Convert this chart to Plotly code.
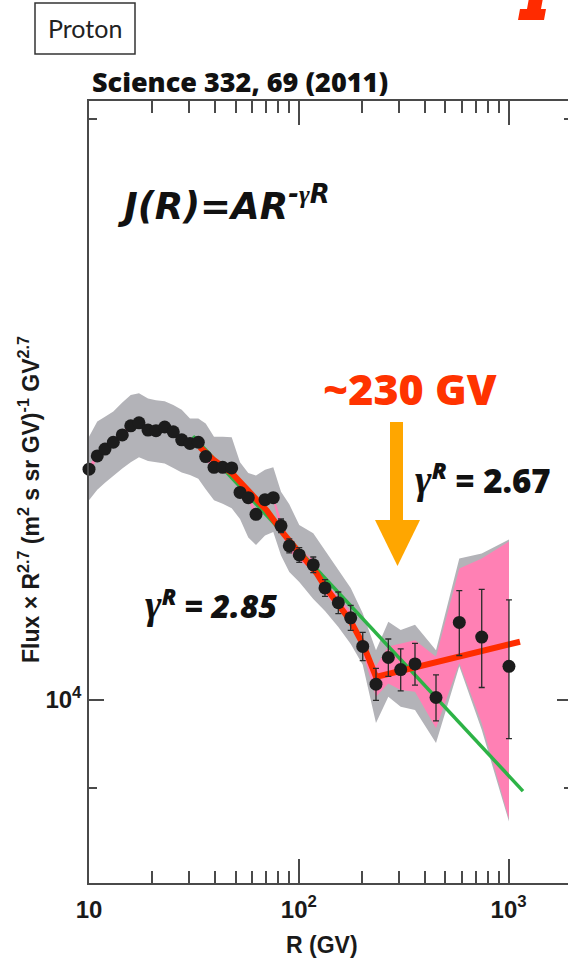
import plotly.graph_objects as go

# Rigidity bins (GV) and proton flux x R^2.7 (m^2 s sr GV)^-1 GV^2.7
R_GV = [10.0, 10.95, 11.92, 13.06, 14.41, 15.81, 17.31, 19.11, 20.86, 22.95,
        25.22, 27.66, 30.29, 33.19, 35.99, 39.43, 43.38, 47.88, 52.45, 57.44,
        62.52, 69.02, 75.56, 82.27, 90.09, 100.5, 117.2, 133.3, 154.3, 176.8,
        201.7, 233.3, 267.1, 306.0, 358.0, 450.8, 582.1, 744.5, 1004.0]
flux = [13170, 13380, 13490, 13600, 13720, 13870, 13920, 13800, 13790, 13850,
        13770, 13640, 13580, 13600, 13370, 13200, 13200, 13190, 12810, 12730,
        12480, 12700, 12730, 12310, 12020, 11890, 11750, 11430, 11230, 11030,
        10660, 10190, 10520, 10370, 10440, 10030, 10970, 10780, 10410]
flux_err = [35, 35, 35, 35, 40, 40, 40, 40, 40, 40,
            40, 45, 45, 45, 45, 50, 50, 50, 55, 55,
            60, 60, 65, 100, 100, 105, 110, 115, 145, 165,
            180, 195, 235, 260, 260, 275, 425, 630, 860]

# Total (stat + syst) uncertainty band
band_total_hi = [13690, 13940, 14020, 14110, 14260, 14390, 14420, 14330, 14300, 14280,
                 14220, 14140, 13990, 13990, 13910, 13690, 13690, 13680, 13280, 13110,
                 13070, 13160, 13200, 12820, 12630, 12320, 12200, 11950, 11670, 11430,
                 11090, 10610, 10980, 10870, 10940, 10610, 11840, 11910, 12110]
band_total_lo = [12690, 12850, 12960, 13070, 13180, 13280, 13360, 13300, 13280, 13260,
                 13190, 13120, 13080, 13020, 12860, 12690, 12640, 12570, 12410, 12140,
                 12030, 12170, 12220, 11880, 11650, 11510, 11280, 11120, 10910, 10690,
                 10430, 9730, 10040, 9920, 9880, 9500, 10410, 9650, 8650]

# Statistical band
band_stat_hi = [13220, 13430, 13550, 13650, 13770, 13930, 13980, 13860, 13840, 13900,
                13820, 13690, 13640, 13650, 13420, 13250, 13250, 13240, 12860, 12780,
                12530, 12750, 12780, 12390, 12110, 11970, 11830, 11510, 11310, 11110,
                10730, 10410, 10660, 10700, 10740, 10530, 11700, 11840, 12080]
band_stat_lo = [13110, 13330, 13440, 13550, 13670, 13820, 13870, 13750, 13730, 13790,
                13710, 13580, 13530, 13550, 13320, 13140, 13140, 13130, 12760, 12680,
                12430, 12640, 12680, 12220, 11940, 11810, 11670, 11350, 11150, 10950,
                10580, 10040, 10200, 10120, 10100, 9670, 10450, 9730, 8680]

# Broken power-law fit (red) and single power-law fit (green)
fit_broken_R = [33.8, 39.14, 47.88, 56.45, 70.31, 84.36, 101.3, 121.7, 133.3,
                154.3, 175.4, 203.0, 233.3, 1133.0]
fit_broken_F = [13520, 13320, 13110, 12850, 12540, 12200, 11910, 11630, 11450,
                11220, 11000, 10680, 10280, 10720]
fit_single_R = [31.3, 1171.0]
fit_single_F = [13700, 8970]

x_tick_vals = [10, 100, 1000]
x_tick_text = ["10", "10<sup>2</sup>", "10<sup>3</sup>"]
x_minor_vals = [20, 30, 40, 50, 60, 70, 80, 90, 200, 300, 400, 500, 600, 700, 800, 900]
y_tick_vals = [10000]
y_tick_text = ["10<sup>4</sup>"]
y_minor_vals = [9000, 20000]

# Page geometry (pixels)
W, H = 568, 958
L, T, B = 89, 101, 883
PW, PH = W - L, B - T
PX_PER_DECADE_X = 209.8
PX_PER_DECADE_Y = 1930.0
x_range = [1.0, 1.0 + PW / PX_PER_DECADE_X]
y_range = [4.0 - (B - 700) / PX_PER_DECADE_Y, 4.0 + (700 - T) / PX_PER_DECADE_Y]


def px(x):
    return (x - L) / PW


def py(y):
    return (B - y) / PH


AXC = "#4a4a4a"
GRAY = "#b3b3b8"
PINK = "#ff80b4"
RED = "#ff2d00"
GREEN = "#2db346"

fig = go.Figure()

fig.add_trace(go.Scatter(x=R_GV, y=band_total_hi, mode="lines", line=dict(width=0),
                         hoverinfo="skip", showlegend=False))
fig.add_trace(go.Scatter(x=R_GV, y=band_total_lo, mode="lines", line=dict(width=0),
                         fill="tonexty", fillcolor=GRAY, hoverinfo="skip", showlegend=False))
fig.add_trace(go.Scatter(x=R_GV, y=band_stat_hi, mode="lines", line=dict(width=0),
                         hoverinfo="skip", showlegend=False))
fig.add_trace(go.Scatter(x=R_GV, y=band_stat_lo, mode="lines", line=dict(width=0),
                         fill="tonexty", fillcolor=PINK, hoverinfo="skip", showlegend=False))
fig.add_trace(go.Scatter(x=fit_single_R, y=fit_single_F, mode="lines",
                         line=dict(color=GREEN, width=3.5), showlegend=False))
fig.add_trace(go.Scatter(x=fit_broken_R, y=fit_broken_F, mode="lines",
                         line=dict(color=RED, width=6), showlegend=False))
fig.add_trace(go.Scatter(x=R_GV, y=flux, mode="markers",
                         marker=dict(size=13, color="#1c1c1c"),
                         error_y=dict(type="data", array=flux_err, color="#2a2a2a",
                                      thickness=1.3, width=3),
                         cliponaxis=False, showlegend=False))
# carrier for the right-hand tick axis
fig.add_trace(go.Scatter(x=[None], y=[None], yaxis="y2", showlegend=False, hoverinfo="skip"))

tick_font = dict(family="Liberation Sans, Arial", size=24, color="#1a1a1a", weight="bold")

fig.update_layout(
    width=W, height=H,
    margin=dict(l=L, r=W - L - PW, t=T, b=H - B, pad=0),
    paper_bgcolor="white", plot_bgcolor="white",
    showlegend=False,
    xaxis=dict(type="log", range=x_range, showline=True, linecolor=AXC, linewidth=1.5,
               mirror="ticks", ticks="inside", ticklen=24, tickwidth=1.5, tickcolor=AXC,
               tickmode="array", tickvals=x_tick_vals, ticktext=x_tick_text,
               tickfont=tick_font, ticklabelstandoff=4,
               showgrid=False, zeroline=False,
               minor=dict(ticks="inside", ticklen=12, tickwidth=1.5, tickcolor=AXC,
                          tickmode="array", tickvals=x_minor_vals, showgrid=False)),
    yaxis=dict(type="log", range=y_range, showline=True, linecolor=AXC, linewidth=1.5,
               mirror=False, ticks="inside", ticklen=15, tickwidth=1.5, tickcolor=AXC,
               tickmode="array", tickvals=y_tick_vals, ticktext=y_tick_text,
               tickfont=tick_font, ticklabelstandoff=1,
               showgrid=False, zeroline=False,
               minor=dict(ticks="inside", ticklen=8, tickwidth=1.5, tickcolor=AXC,
                          tickmode="array", tickvals=y_minor_vals, showgrid=False)),
    yaxis2=dict(type="log", range=y_range, overlaying="y", side="right", anchor="x",
                showline=False, ticks="inside", ticklen=11, tickwidth=1.5, tickcolor=AXC,
                tickmode="array", tickvals=y_tick_vals, showticklabels=False,
                showgrid=False, zeroline=False,
                minor=dict(ticks="inside", ticklen=4, tickwidth=1.5, tickcolor=AXC,
                           tickmode="array", tickvals=y_minor_vals, showgrid=False)),
)

shapes = []
# label box
shapes.append(dict(type="rect", xref="paper", yref="paper",
                   x0=px(35), x1=px(135), y0=py(54), y1=py(3),
                   line=dict(color="#333333", width=1.5)))
# orange arrow marking the break
shapes.append(dict(type="rect", xref="paper", yref="paper",
                   x0=px(390), x1=px(403), y0=py(521), y1=py(422),
                   line=dict(width=0), fillcolor="#ffa600"))
shapes.append(dict(type="path", xref="paper", yref="paper",
                   path=f"M {px(375)},{py(520)} L {px(420)},{py(520)} L {px(397.5)},{py(566)} Z",
                   line=dict(width=0), fillcolor="#ffa600"))
# red slide-number glyph at the top edge
glyph = [(529, -2), (543, -2), (541, 9), (546, 9), (544, 20), (518, 20), (520, 9), (527, 9)]
gpath = "M " + " L ".join(f"{px(a)},{py(b)}" for a, b in glyph) + " Z"
shapes.append(dict(type="path", xref="paper", yref="paper", path=gpath,
                   line=dict(width=0), fillcolor="#ff2b00"))
fig.update_layout(shapes=shapes)

ann = []


def note(x, y, text, size, family, color="#111111", xanchor="center", yanchor="middle",
         weight="bold", angle=0):
    ann.append(dict(xref="paper", yref="paper", x=px(x), y=py(y), text=text,
                    showarrow=False, xanchor=xanchor, yanchor=yanchor, textangle=angle,
                    font=dict(family=family, size=size, color=color, weight=weight)))


note(85, 28, "Proton", 25, "Lato", color="#222222", weight="normal")
note(240, 81, "Science 332, 69 (2011)", 27, "Open Sans", color="#111111", weight=800)
note(115, 203, "<i>J(R)=AR<sup>-<span style=\"font-family:Liberation Serif\">γ</span>R</sup></i>",
     37, "DejaVu Sans", xanchor="left")
note(410, 388, "~230 GV", 43, "Open Sans", color="#ff3300", weight=800)
note(413, 478, "<span style=\"font-family:Liberation Serif;font-size:40px\"><i>γ</i></span>"
     "<sup><i>R</i></sup> = 2.67", 33, "Open Sans", xanchor="left", weight=800)
note(143, 604, "<i><span style=\"font-family:Liberation Serif;font-size:40px\">γ</span>"
     "<sup>R</sup> = 2.85</i>", 32, "Open Sans", xanchor="left", weight=800)
note(29, 500, "Flux × R<sup>2.7</sup> (m<sup>2</sup> s sr GV)<sup>-1</sup> GV<sup>2.7</sup>",
     23, "Liberation Sans, Arial", color="#1a1a1a", angle=-90)
note(322, 945, "R (GV)", 23, "Liberation Sans, Arial", color="#1a1a1a")
fig.update_layout(annotations=ann)

fig.write_html("out.html")
